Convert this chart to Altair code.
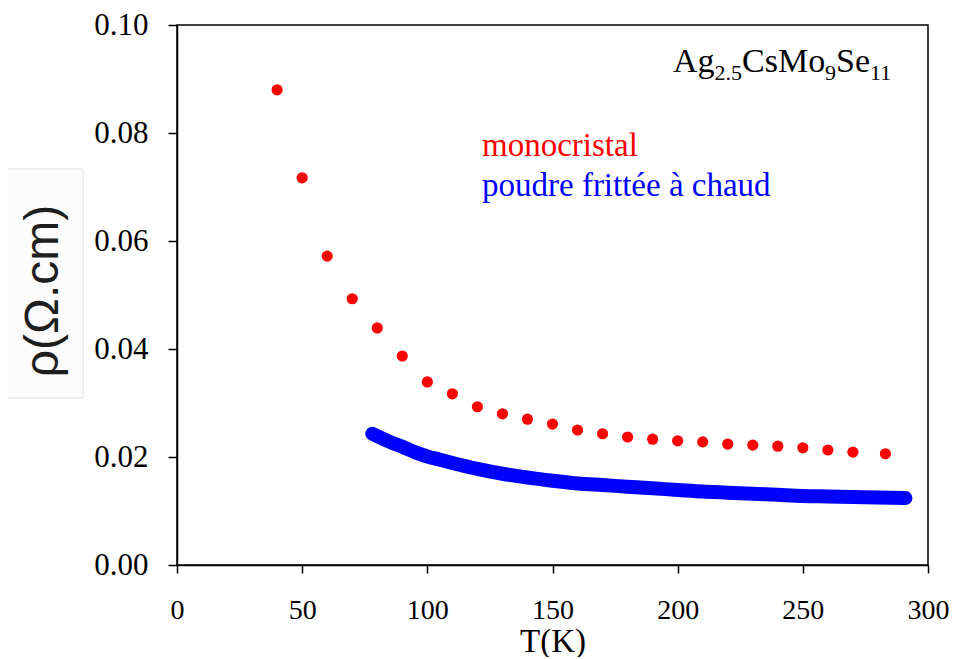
import altair as alt
import pandas as pd

# Monocristal (red dots)
t_mono = [40, 50, 60, 70, 80, 90, 100, 110, 120, 130, 140, 150, 160, 170, 180,
          190, 200, 210, 220, 230, 240, 250, 260, 270, 283]
rho_mono = [0.0880, 0.0717, 0.0572, 0.0493, 0.0439, 0.0387, 0.0339, 0.0317, 0.0293,
            0.0280, 0.0270, 0.0261, 0.0250, 0.0243, 0.0237, 0.0233, 0.0230, 0.0228,
            0.0224, 0.0222, 0.0220, 0.0217, 0.0213, 0.0209, 0.0206]

# Poudre frittée à chaud (dense blue band)
t_poudre = [78, 85, 90, 95, 100, 105, 110, 120, 130, 140, 145, 150, 160, 170, 180,
            190, 200, 210, 220, 230, 240, 250, 260, 270, 280, 291]
rho_poudre = [0.0243, 0.0228, 0.0219, 0.0209, 0.0201, 0.0195, 0.0189, 0.0178, 0.0169,
              0.0162, 0.0159, 0.0156, 0.0151, 0.0148, 0.0145, 0.0142, 0.0139, 0.0136,
              0.0134, 0.0132, 0.0130, 0.0128, 0.0127, 0.0126, 0.0125, 0.0124]

x_ticks = [0, 50, 100, 150, 200, 250, 300]
y_ticks = [0.00, 0.02, 0.04, 0.06, 0.08, 0.10]

label_mono = "monocristal"
label_poudre = "poudre frittée à chaud"
formula_parts = ["Ag", "2.5", "CsMo", "9", "Se", "11"]
y_title = "ρ(Ω.cm)"

df_mono = pd.DataFrame({"T": t_mono, "rho": rho_mono})
df_poudre = pd.DataFrame({"T": t_poudre, "rho": rho_poudre})

SERIF = "Liberation Serif"
AXFONT = "'Liberation Serif', 'Times New Roman', serif"

x_enc = alt.X("T:Q", scale=alt.Scale(domain=[0, 300], nice=False, zero=False),
              axis=alt.Axis(values=x_ticks, title="T(K)", grid=False, labelFlush=False,
                            labelFont=AXFONT, labelFontSize=28, labelColor="black",
                            labelPadding=23, tickSize=8, tickColor="black", tickWidth=1.5,
                            domainColor="black", domainWidth=1.5,
                            titleFont=AXFONT, titleFontSize=33, titleFontWeight="normal",
                            titleColor="black", titleY=86, titleBaseline="alphabetic"))
y_enc = alt.Y("rho:Q", scale=alt.Scale(domain=[0, 0.10], nice=False, zero=False),
              axis=alt.Axis(values=y_ticks, format=".2f", title=None, grid=False,
                            labelFlush=False,
                            labelFont=AXFONT, labelFontSize=31, labelColor="black",
                            labelPadding=20, tickSize=9, tickColor="black", tickWidth=1.5,
                            domainColor="black", domainWidth=1.5))

blue = alt.Chart(df_poudre).mark_line(
    color="#0000ff", strokeWidth=14, strokeCap="round", strokeJoin="round",
    interpolate="monotone"
).encode(x=x_enc, y=y_enc, order="T:Q")

red = alt.Chart(df_mono).mark_circle(size=125, color="#ff0000", opacity=1).encode(
    x="T:Q", y="rho:Q")


def txt(s, x, y, size, color="black", font=SERIF, angle=None, align="left",
        baseline="alphabetic"):
    kw = dict(font=font, fontSize=size, color=color, align=align, baseline=baseline)
    if angle is not None:
        kw["angle"] = angle
    return alt.Chart(pd.DataFrame({"label": [s]})).mark_text(**kw).encode(
        text="label:N", x=alt.value(x), y=alt.value(y))


formula_x = [496, 537.5, 565, 648, 659, 693]
formula_y = [47, 55, 47, 55, 47, 55]
formula_size = [34, 22, 34, 22, 34, 22]
formula = [txt(p, fx, fy, fs) for p, fx, fy, fs in
           zip(formula_parts, formula_x, formula_y, formula_size)]

mono_lbl = txt(label_mono, 305, 131, 33, color="#ff0000")
poudre_lbl = txt(label_poudre, 305, 171, 33, color="#0000ff")

box = alt.Chart(pd.DataFrame({"k": [0]})).mark_rect(
    fill="#fbfbfb", stroke="#e2e2e2", strokeWidth=1
).encode(x=alt.value(-177), x2=alt.value(-94), y=alt.value(144), y2=alt.value(373))

ytitle = txt(y_title, -133, 266, 48, color="#1e1e1e", font="Liberation Sans",
             angle=270, align="center", baseline="middle")

chart = alt.layer(blue, red, mono_lbl, poudre_lbl, *formula, box, ytitle).properties(
    width=751, height=540,
    autosize=alt.AutoSizeParams(type="none"),
    padding={"left": 169, "top": 17, "right": 23, "bottom": 92},
    background="white",
).configure_view(stroke="black", strokeWidth=1.5)

chart.save("out.html", embed_options={"renderer": "svg", "actions": False})
